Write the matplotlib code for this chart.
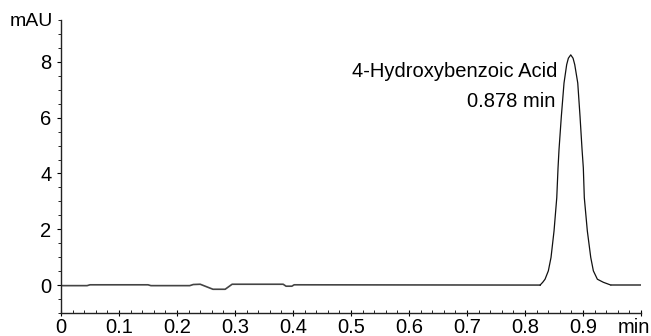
import matplotlib.pyplot as plt
from matplotlib.ticker import MultipleLocator
import matplotlib.transforms as mtransforms

plt.rcParams["font.family"] = ["Liberation Sans", "DejaVu Sans"]

# baseline before the peak (time in min, signal in mAU)
base_time = [0.0, 0.045, 0.05, 0.15, 0.155, 0.222, 0.228, 0.24, 0.262, 0.283,
             0.295, 0.383, 0.388, 0.398, 0.402, 0.826]
base_mau = [-0.02, -0.02, 0.01, 0.01, -0.02, -0.02, 0.02, 0.03, -0.15, -0.15,
            0.03, 0.03, -0.04, -0.04, 0.01, 0.0]

# 4-hydroxybenzoic acid peak
peak_time = [0.826, 0.8305, 0.8345, 0.8402, 0.8448, 0.850, 0.8547, 0.8569,
             0.8586, 0.8626, 0.8672, 0.8718, 0.8747, 0.8788, 0.8828, 0.8857,
             0.8909, 0.8948, 0.8983, 0.9005, 0.9022, 0.9074, 0.9133, 0.9178,
             0.9247, 0.935, 0.948]
peak_mau = [0.0, 0.1, 0.21, 0.51, 0.99, 1.94, 3.13, 4.2,
            4.86, 6.05, 7.24, 7.9, 8.13, 8.25, 8.13, 7.9,
            7.24, 6.05, 4.86, 4.2, 3.13, 1.94, 0.99, 0.51,
            0.21, 0.1, 0.0]

# after the peak
tail_time = [0.948, 1.0]
tail_mau = [0.0, 0.0]

xticks = [0, 0.1, 0.2, 0.3, 0.4, 0.5, 0.6, 0.7, 0.8, 0.9, 1.0]
xtick_labels = ["0", "0.1", "0.2", "0.3", "0.4", "0.5", "0.6", "0.7", "0.8", "0.9", ""]
yticks = [0, 2, 4, 6, 8]

fig = plt.figure(figsize=(6.51, 3.36), dpi=100)
ax = fig.add_axes([0.0937, 0.0685, 0.891, 0.872])

ax.plot(base_time, base_mau, color="#444444", lw=1.2)
ax.plot(peak_time, peak_mau, color="#111111", lw=0.9)
ax.plot(tail_time, tail_mau, color="#444444", lw=1.2)

ax.set_xlim(0, 1.0)
ax.set_ylim(-1, 9.5)
ax.set_xticks(xticks)
ax.set_xticklabels(xtick_labels)
ax.set_yticks(yticks)
ax.xaxis.set_minor_locator(MultipleLocator(0.02))
ax.yaxis.set_minor_locator(MultipleLocator(0.5))

for side in ["top", "right"]:
    ax.spines[side].set_visible(False)
for side in ["left", "bottom"]:
    ax.spines[side].set_linewidth(1.0)
    ax.spines[side].set_color("#222222")

ax.tick_params(axis="x", which="major", direction="inout", length=5, labelsize=14.5, pad=1)
ax.tick_params(axis="x", which="minor", direction="in", length=2.5)
ax.tick_params(axis="y", which="major", direction="out", length=3, labelsize=14.5, pad=4)
ax.tick_params(axis="y", which="minor", direction="out", length=2)

# unit label sits in place of the 1.0 tick label
ax.annotate("min", xy=(1.0, 0), xycoords=("data", "axes fraction"),
            xytext=(-5, -3.5), textcoords="offset points",
            ha="center", va="top", fontsize=14.5)

trans = mtransforms.blended_transform_factory(ax.transAxes, ax.transData)
ax.text(-0.014, 9.44, "mAU", transform=trans, ha="right", va="center", fontsize=14)

ax.text(0.855, 7.64, "4-Hydroxybenzoic Acid", ha="right", va="center", fontsize=14.5)
ax.text(0.852, 6.57, "0.878 min", ha="right", va="center", fontsize=14.5)

fig.savefig("out.png", dpi=100)
